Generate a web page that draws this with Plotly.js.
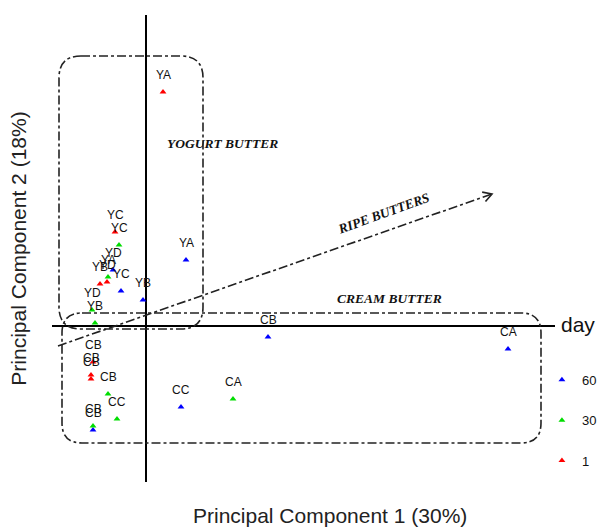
<!DOCTYPE html>
<html>
<head>
<meta charset="utf-8">
<script src="https://cdn.plot.ly/plotly-3.0.1.min.js"></script>
<style>html,body{margin:0;padding:0;background:#fff;}#chart{width:598px;height:528px;}</style>
</head>
<body>
<div id="chart"></div>
<script>
// Scores on principal components (PC1, PC2), labels = sample codes
const day1Labels = ["YA", "YC", "YB", "YD", "CB", "CB", "CB"];
const day1PC1 = [0.34, -0.62, -0.92, -0.78, -1.06, -1.10, -1.10];
const day1PC2 = [4.68, 1.88, 0.84, 0.88, -0.72, -0.98, -1.06];

const day30Labels = ["YA", "YC", "YD", "YB", "CB", "CC", "CB", "CA"];
const day30PC1 = [-0.76, -0.54, -1.08, -1.02, -0.76, -0.58, -1.06, 1.74];
const day30PC2 = [0.98, 1.62, 0.32, 0.06, -1.36, -1.86, -2.00, -1.46];

const day60Labels = ["YA", "YD", "YC", "YB", "CB", "CB", "CA", "CC"];
const day60PC1 = [0.80, -0.66, -0.50, -0.06, 2.44, -1.06, 7.24, 0.70];
const day60PC2 = [1.32, 1.12, 0.70, 0.52, -0.22, -2.08, -0.46, -1.62];

const dayNames = ["60", "30", "1"];
const dayColors = ["#0000ff", "#00dd00", "#ff0000"];

// Group outlines (x0, x1, y0, y1) and ripe-butter trend vector
const yogurtBox = [-1.74, 1.14, -0.06, 5.40];
const creamBox = [-1.68, 7.90, -2.34, 0.26];
const ripeStart = [-1.76, -0.40];
const ripeEnd = [6.92, 2.64];

const series = [
  {name: dayNames[0], x: day60PC1, y: day60PC2, t: day60Labels, c: dayColors[0]},
  {name: dayNames[1], x: day30PC1, y: day30PC2, t: day30Labels, c: dayColors[1]},
  {name: dayNames[2], x: day1PC1, y: day1PC2, t: day1Labels, c: dayColors[2]}
];

const traces = series.map((s, i) => ({
  type: "scatter", mode: "markers", name: s.name, x: s.x, y: s.y, text: s.t,
  legendgroup: "g" + i,
  marker: {symbol: "triangle-up", size: 6, color: s.c},
  hoverinfo: "text+x+y"
}));

const labelAnns = [];
series.forEach(s => {
  s.x.forEach((xv, j) => {
    labelAnns.push({x: xv, y: s.y[j], xref: "x", yref: "y", text: s.t[j], showarrow: false,
      yshift: 17, font: {family: "Arial, Liberation Sans", size: 12, color: "#111"}});
  });
});

function roundRect(b, r) {
  const [x0, x1, y0, y1] = b;
  return `M ${x0 + r} ${y1} L ${x1 - r} ${y1} Q ${x1} ${y1} ${x1} ${y1 - r} ` +
    `L ${x1} ${y0 + r} Q ${x1} ${y0} ${x1 - r} ${y0} L ${x0 + r} ${y0} ` +
    `Q ${x0} ${y0} ${x0} ${y0 + r} L ${x0} ${y1 - r} Q ${x0} ${y1} ${x0 + r} ${y1} Z`;
}

// arrowhead lines (equal unit scaling on both axes)
const dx = ripeEnd[0] - ripeStart[0], dy = ripeEnd[1] - ripeStart[1];
const len = Math.hypot(dx, dy), ux = -dx / len, uy = -dy / len, hl = 0.2, ang = Math.PI / 6;
const h1 = [ripeEnd[0] + hl * (ux * Math.cos(ang) - uy * Math.sin(ang)), ripeEnd[1] + hl * (ux * Math.sin(ang) + uy * Math.cos(ang))];
const h2 = [ripeEnd[0] + hl * (ux * Math.cos(-ang) - uy * Math.sin(-ang)), ripeEnd[1] + hl * (ux * Math.sin(-ang) + uy * Math.cos(-ang))];

const dashLine = {color: "#222", width: 1.6, dash: "dashdot"};
const shapes = [
  {type: "path", xref: "x", yref: "y", path: roundRect(yogurtBox, 0.44), line: dashLine},
  {type: "path", xref: "x", yref: "y", path: roundRect(creamBox, 0.40), line: dashLine},
  {type: "line", xref: "x", yref: "y", x0: ripeStart[0], y0: ripeStart[1], x1: ripeEnd[0], y1: ripeEnd[1], line: dashLine},
  {type: "path", xref: "x", yref: "y", path: `M ${h1[0]} ${h1[1]} L ${ripeEnd[0]} ${ripeEnd[1]} L ${h2[0]} ${h2[1]}`, line: {color: "#222", width: 1.6}}
];

const titleFont = {family: "Arial, Liberation Sans", size: 21, color: "#222"};
const groupFont = {family: "Liberation Serif, Times New Roman, serif", size: 13.5, color: "#111"};
const annotations = labelAnns.concat([
  {x: 1.52, y: 3.66, xref: "x", yref: "y", text: "<b><i>YOGURT BUTTER</i></b>", showarrow: false, font: groupFont},
  {x: 4.74, y: 2.26, xref: "x", yref: "y", text: "<b><i>RIPE BUTTERS</i></b>", showarrow: false, textangle: -20, font: groupFont},
  {x: 4.86, y: 0.56, xref: "x", yref: "y", text: "<b><i>CREAM BUTTER</i></b>", showarrow: false, font: groupFont},
  {x: 1.046, y: 0.308, xref: "paper", yref: "paper", text: "day", showarrow: false, xanchor: "center",
    font: {family: "Arial, Liberation Sans", size: 21, color: "#111"}},
  {x: 0.553, y: -0.072, xref: "paper", yref: "paper", text: "Principal Component 1 (30%)", showarrow: false,
    xanchor: "center", yanchor: "middle", font: titleFont}
]);

const axisCommon = {showgrid: false, showticklabels: false, ticks: "", showline: false,
  zeroline: true, zerolinecolor: "#000", zerolinewidth: 1.6};

const layout = {
  width: 598, height: 528,
  margin: {l: 52, r: 43, t: 15, b: 46, autoexpand: false},
  paper_bgcolor: "#fff", plot_bgcolor: "#fff",
  showlegend: true,
  legend: {x: 0.974, y: 0.251, xanchor: "left", yanchor: "top", bgcolor: "rgba(0,0,0,0)",
    tracegroupgap: 20.5, font: {family: "Arial, Liberation Sans", size: 13, color: "#111"}},
  xaxis: Object.assign({range: [-1.88, 8.18], automargin: false}, axisCommon),
  yaxis: Object.assign({range: [-3.12, 6.22], title: {text: "Principal Component 2 (18%)", standoff: 18,
    font: titleFont}, automargin: false}, axisCommon),
  shapes: shapes,
  annotations: annotations
};

Plotly.newPlot("chart", traces, layout, {displayModeBar: false, staticPlot: true});
</script>
</body>
</html>
